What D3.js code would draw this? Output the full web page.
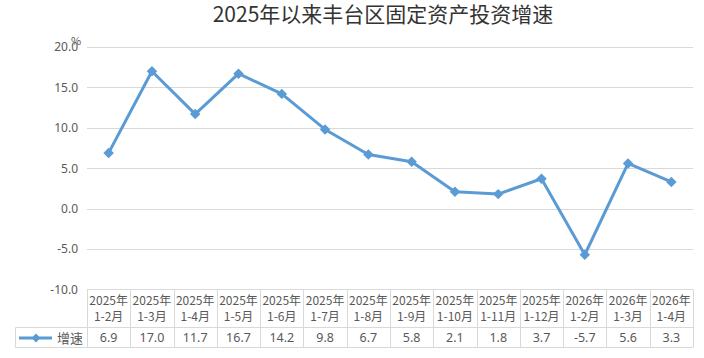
<!DOCTYPE html>
<html><head><meta charset="utf-8">
<script src="https://cdn.jsdelivr.net/npm/d3@7"></script>
<style>
body{margin:0;background:#fff;}
svg{display:block;font-family:"Noto Sans CJK SC","Microsoft YaHei",sans-serif;}
</style></head>
<body><svg id="c" width="704" height="358"></svg>
<script>
const years = ["2025年","2025年","2025年","2025年","2025年","2025年","2025年","2025年","2025年","2025年","2025年","2026年","2026年","2026年"];
const periods = ["1-2月","1-3月","1-4月","1-5月","1-6月","1-7月","1-8月","1-9月","1-10月","1-11月","1-12月","1-2月","1-3月","1-4月"];
const values = [6.9,17.0,11.7,16.7,14.2,9.8,6.7,5.8,2.1,1.8,3.7,-5.7,5.6,3.3];
const yTicks = [-10,-5,0,5,10,15,20];
const seriesName = "增速";
const title = "2025年以来丰台区固定资产投资增速";

const svg = d3.select("#c");
const L = 87, R = 693, T = 47, B = 289.5;
const idx = d3.range(values.length);
const x = d3.scaleBand().domain(idx).range([L, R]);
const y = d3.scaleLinear().domain([-10, 20]).range([B, T]);
const grid = "#d9d9d9", txt = "#595959", blue = "#5B9BD5";
const fmt = d => d3.format(".1f")(d).replace("\u2212", "-");

svg.append("text").attr("x", 383).attr("y", 22).attr("text-anchor","middle")
  .attr("font-size", 21).attr("fill", "#333").text(title);

// gridlines
svg.append("g").selectAll("line").data(yTicks.filter(d => d > -10)).join("line")
  .attr("x1", L).attr("x2", R).attr("y1", d => Math.round(y(d)) + 0.5).attr("y2", d => Math.round(y(d)) + 0.5)
  .attr("stroke", grid).attr("stroke-width", 1);

// y axis labels
const ya = svg.append("g").attr("transform", `translate(${L},0)`)
  .call(d3.axisLeft(y).tickValues(yTicks).tickFormat(fmt).tickSize(0).tickPadding(9));
ya.select(".domain").remove();
ya.selectAll("text").attr("font-size", 12).attr("fill", txt).attr("font-family", "'Noto Sans', sans-serif");
svg.append("text").attr("x", 71).attr("y", 45).attr("font-size", 11).attr("fill", txt).text("%");

// line
const line = d3.line().x((d, i) => x(i) + x.bandwidth() / 2).y(d => y(d));
svg.append("path").datum(values).attr("d", line).attr("fill", "none")
  .attr("stroke", blue).attr("stroke-width", 3).attr("stroke-linejoin", "round");
const diamond = d3.symbol().type(d3.symbolDiamond2).size(70);
svg.append("g").selectAll("path").data(values).join("path")
  .attr("transform", (d, i) => `translate(${x(i) + x.bandwidth() / 2},${y(d)})`)
  .attr("d", diamond).attr("fill", blue);

// data table
const tTop = 289.5, tMid = 327.5, tBot = 347.5, legL = 15.5;
const tg = svg.append("g");
tg.append("line").attr("x1", L).attr("x2", R).attr("y1", tTop).attr("y2", tTop).attr("stroke", grid);
tg.append("line").attr("x1", legL).attr("x2", R).attr("y1", tMid).attr("y2", tMid).attr("stroke", grid);
tg.append("line").attr("x1", legL).attr("x2", R).attr("y1", tBot).attr("y2", tBot).attr("stroke", grid);
tg.append("line").attr("x1", legL).attr("x2", legL).attr("y1", tMid).attr("y2", tBot).attr("stroke", grid);
const bounds = idx.map(i => x(i)).concat([R]);
tg.selectAll(".v").data(bounds).join("line").attr("class", "v")
  .attr("x1", d => Math.round(d) + 0.5).attr("x2", d => Math.round(d) + 0.5)
  .attr("y1", tTop).attr("y2", tBot).attr("stroke", grid);

const cx = i => x(i) + x.bandwidth() / 2;
tg.selectAll(".yr").data(years).join("text").attr("class", "yr")
  .attr("x", (d, i) => cx(i)).attr("y", 305).attr("text-anchor", "middle")
  .attr("font-size", 12).attr("fill", txt).text(d => d);
tg.selectAll(".pr").data(periods).join("text").attr("class", "pr")
  .attr("x", (d, i) => cx(i)).attr("y", 321).attr("text-anchor", "middle")
  .attr("font-size", 12).attr("fill", txt).text(d => d);
tg.selectAll(".val").data(values).join("text").attr("class", "val")
  .attr("x", (d, i) => cx(i)).attr("y", 342).attr("text-anchor", "middle")
  .attr("font-size", 12.5).attr("fill", txt).attr("font-family", "'Noto Sans', sans-serif")
  .text(d => fmt(d));

// legend key
tg.append("line").attr("x1", 19).attr("x2", 52).attr("y1", 338).attr("y2", 338)
  .attr("stroke", blue).attr("stroke-width", 3);
tg.append("path").attr("transform", "translate(36,338)").attr("d", d3.symbol().type(d3.symbolDiamond2).size(50)).attr("fill", blue);
tg.append("text").attr("x", 57).attr("y", 343).attr("font-size", 13).attr("fill", txt).text(seriesName);
</script></body></html>
